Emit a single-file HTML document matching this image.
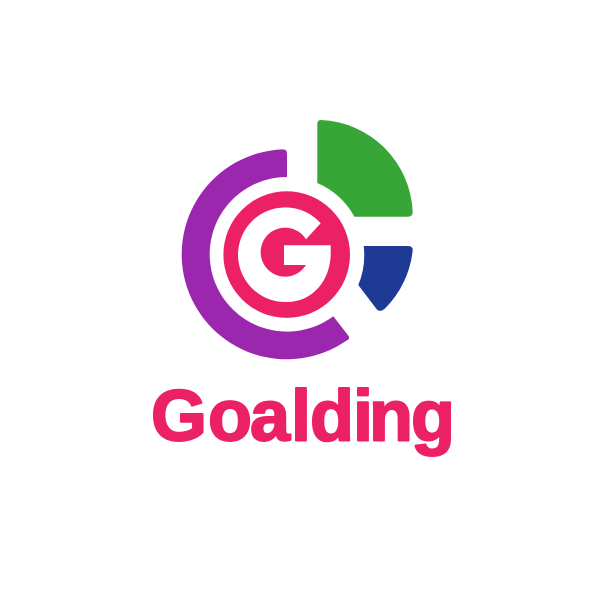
<!DOCTYPE html>
<html lang="en">
<head>
<meta charset="utf-8">
<title>Goalding</title>
<style>
html,body{margin:0;padding:0;background:#fff;width:600px;height:600px;overflow:hidden}
svg{display:block}
</style>
</head>
<body>
<svg width="600" height="600" viewBox="0 0 600 600" xmlns="http://www.w3.org/2000/svg">
  <rect width="600" height="600" fill="#ffffff"/>
  <path fill="#9b27af" d="M282.5,149.38 Q287,149.2 287,153.5 L287,177 A77.3 77.3 0 1 0 333.3,316.2 L348.6,336 Q350.3,339 346.2,340.8 A105 105 0 1 1 282.5,149.38 Z"/>
  <path fill="#38a636" d="M317.3,124 Q317.3,120 321,120 A96 96 0 0 1 412.7,212 Q412.7,216.7 408,216.7 L354.4,216.7 A77.3 77.3 0 0 0 317.3,183 Z"/>
  <path fill="#1e3a94" d="M363.7,246 L408,246 Q412.7,246 412.7,250 A96 96 0 0 1 385,308.5 Q380,313 376.5,309 L358.3,285 A77.3 77.3 0 0 0 363.7,246 Z"/>
  <circle cx="286.7" cy="254.6" r="63.3" fill="#ec2065"/>
  <path fill="#ffffff" d="M320.7,223.3 A47.3 47.3 0 1 0 286.7,302 C313,302 330.7,280 330.7,253 L330.7,245.3 L284,245.3 L284,265 L306,265 A24.5 24.5 0 1 1 306,239.3 Z"/>
  <text y="440.7" x="151 208 250 291 310 353 369 411" font-family="'Liberation Sans', sans-serif" font-weight="700" font-size="72" fill="#ec2065" stroke="#ec2065" stroke-width="2" stroke-linejoin="round">Goalding</text>
</svg>
</body>
</html>
